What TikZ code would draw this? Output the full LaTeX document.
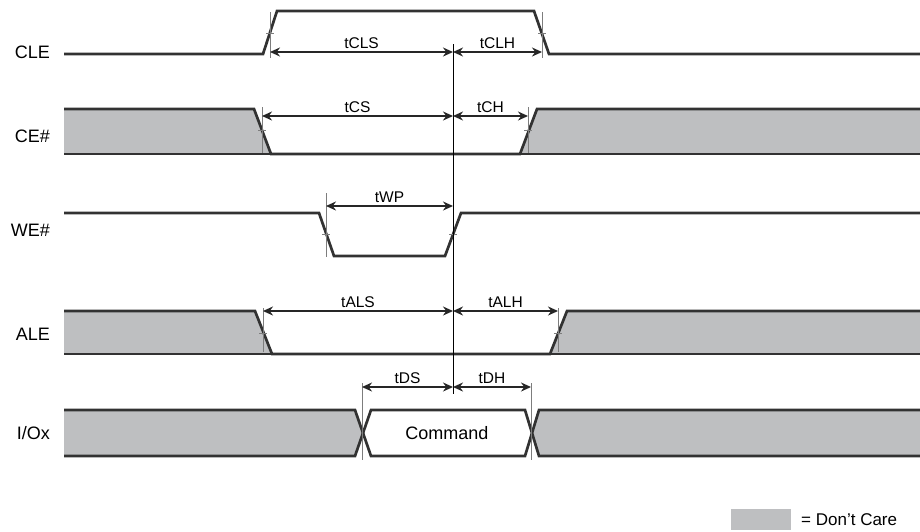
\documentclass[tikz,border=0pt]{standalone}
\usepackage{fontspec}
\setmainfont{Liberation Sans}
\usetikzlibrary{arrows.meta}

\definecolor{dcgray}{RGB}{190,191,193}
\definecolor{wave}{RGB}{50,50,50}
\definecolor{tickgray}{RGB}{125,125,125}

\tikzstyle{sig}      = [draw=wave, line width=2.7pt]
\tikzstyle{dcare}    = [fill=dcgray]
\tikzstyle{tickline} = [draw=tickgray, line width=0.9pt]
\tikzstyle{tarrow}   = [{Stealth[length=10pt,width=9pt]}-{Stealth[length=10pt,width=9pt]}, line width=1.6pt, draw=black!85]
\tikzstyle{tlabel}   = [font=\fontsize{15.5}{17}\selectfont, anchor=south, inner sep=3pt]
\tikzstyle{siglabel} = [font=\fontsize{18}{20}\selectfont, anchor=east, inner sep=0pt]
\def\timing#1#2#3#4#5{
  \coordinate (#1 a) at (#2,#4);
  \coordinate (#1 b) at (#3,#4);
  \draw[tarrow] (#1 a) -- (#1 b) node[tlabel, midway] (#1) {#5};
}
\def\edgetick#1#2#3#4{
  \draw[tickline] (#1,#2) -- (#1,#3);
  \draw[tickline] (#1-4,#4) -- (#1+4,#4);
}

\begin{document}
\begin{tikzpicture}[x=1pt, y=-1pt]
  \useasboundingbox (0,0) rectangle (920,531);
  \foreach \y/\n/\t in {52/cle/CLE, 136/ce/CE\#, 230/we/WE\#, 334/ale/ALE, 433/io/{I/Ox}}
    \node[siglabel] (\n) at (50,\y) {\t};
  % CLE
  \draw[sig] (64,54) -- (263,54) -- (277,11) -- (534,11) -- (549,54) -- (920,54);
  % CE#
  \fill[dcare] (64,109) -- (254,109) -- (271,154) -- (64,154) -- cycle;
  \fill[dcare] (520,154) -- (537,109) -- (920,109) -- (920,154) -- cycle;
  \draw[sig] (64,154) -- (920,154);
  \draw[sig] (64,109) -- (254,109) -- (271,154) -- (520,154) -- (537,109) -- (920,109);
  % WE#
  \draw[sig] (64,213) -- (319,213) -- (334,256) -- (445,256) -- (461,213) -- (920,213);
  % ALE
  \fill[dcare] (64,311) -- (255,311) -- (272,354) -- (64,354) -- cycle;
  \fill[dcare] (550,354) -- (567,311) -- (920,311) -- (920,354) -- cycle;
  \draw[sig] (64,354) -- (920,354);
  \draw[sig] (64,311) -- (255,311) -- (272,354) -- (550,354) -- (567,311) -- (920,311);
  % I/Ox
  \fill[dcare] (64,410) -- (355,410) -- (363,433) -- (355,456) -- (64,456) -- cycle;
  \fill[dcare] (920,410) -- (539,410) -- (532,433) -- (539,456) -- (920,456) -- cycle;
  \draw[sig] (64,410) -- (355,410) -- (363,433) -- (355,456) -- (64,456);
  \draw[sig] (920,410) -- (539,410) -- (532,433) -- (539,456) -- (920,456);
  \draw[sig] (363,433) -- (371,410) -- (525,410) -- (532,433) -- (525,456) -- (371,456) -- cycle;
  \node[font=\fontsize{18}{20}\selectfont] (cmd) at (447,433) {Command};
  % edge ticks
  \edgetick{270}{12}{58}{33}
  \edgetick{542}{12}{58}{33}
  \edgetick{262}{107}{153}{130}
  \edgetick{528}{107}{153}{130}
  \edgetick{326}{193}{257}{234}
  \draw[tickline] (449,234) -- (457,234);
  \edgetick{263}{308}{352}{333}
  \edgetick{558}{308}{352}{333}
  \draw[tickline] (362,383) -- (362,460);
  \draw[tickline] (531,383) -- (531,460);
  % reference edge
  \coordinate (reftop) at (453,44);
  \coordinate (refbot) at (453,394);
  \draw[line width=0.8pt] (reftop) -- (refbot);
  % timing parameters
  \timing{tcls}{270}{453}{52}{tCLS}
  \timing{tclh}{453}{542}{52}{tCLH}
  \timing{tcs}{262}{453}{116}{tCS}
  \timing{tch}{453}{528}{116}{tCH}
  \timing{twp}{326}{453}{206}{tWP}
  \timing{tals}{263}{453}{311}{tALS}
  \timing{talh}{453}{558}{311}{tALH}
  \timing{tds}{362}{453}{387}{tDS}
  \timing{tdh}{453}{531}{387}{tDH}
  % legend
  \fill[dcare] (731,509) rectangle (791,530);
  \node[font=\fontsize{17}{19}\selectfont, anchor=west, inner sep=0pt] (dclabel) at (801,520) {= Don't Care};
\end{tikzpicture}
\end{document}
